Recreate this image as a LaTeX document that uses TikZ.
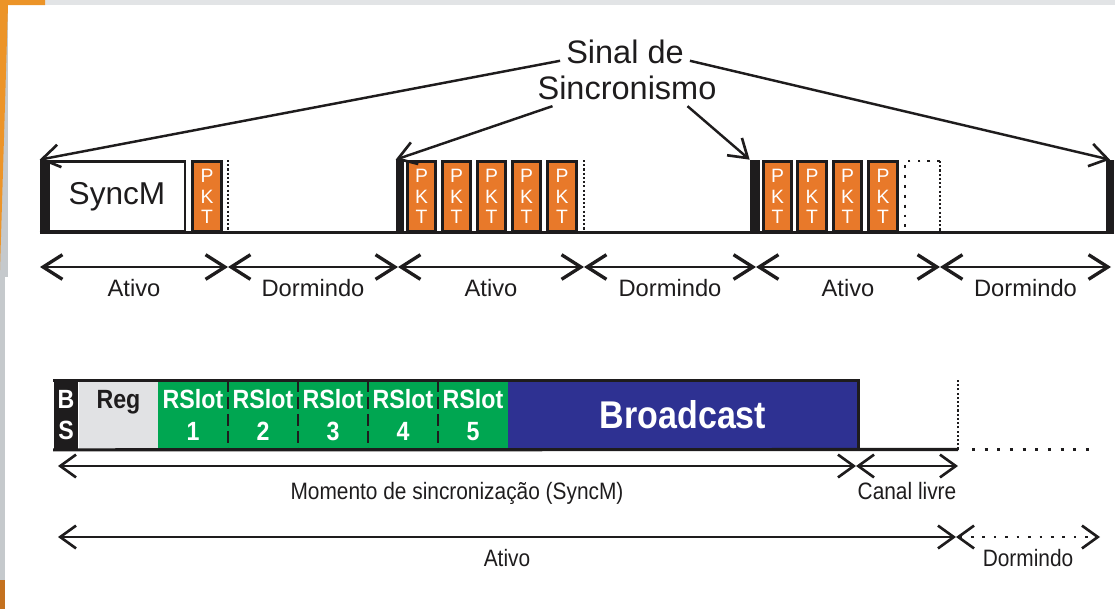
\documentclass[tikz,border=0pt]{standalone}
\usepackage{fontspec}
\setmainfont{Liberation Sans}
\newfontfamily\narrowsf[FakeStretch=0.88]{Liberation Sans}
\usetikzlibrary{arrows.meta}

\definecolor{pktorange}{HTML}{E8792A}
\definecolor{slotgreen}{HTML}{00A651}
\definecolor{bcblue}{HTML}{2E3192}
\definecolor{reggray}{HTML}{E1E2E4}
\definecolor{slidegray}{HTML}{C5C9CC}
\definecolor{slideorange}{HTML}{EC9428}
\definecolor{slidebrown}{HTML}{C4711F}
\definecolor{stripgray}{HTML}{E2E4E6}
\definecolor{ink}{HTML}{1E1C1D}

\tikzset{
  bigbarb/.tip={Straight Barb[length=11pt,width=14pt,line width=1.9pt]},
  smallbarb/.tip={Straight Barb[length=9pt,width=13pt,line width=1.5pt]},
  sig/.style={draw=ink, line width=1.4pt, -{Straight Barb[length=10pt,width=13pt,line width=1.5pt]}},
  span/.style={draw=ink, line width=1.2pt, bigbarb-bigbarb},
  thinspan/.style={draw=ink, line width=0.9pt, smallbarb-smallbarb},
  spanlbl/.style={midway, anchor=base, yshift=-17pt, text=ink, font=\fontsize{13.5}{16}\selectfont},
  lowlbl/.style={midway, anchor=base, text=ink, font=\narrowsf\fontsize{13.5}{15}\selectfont},
  sinaltxt/.style={text=ink, font=\fontsize{18.5}{20}\selectfont},
  syncbar/.style={fill=ink, inner sep=0pt, minimum height=1.44cm},
  syncbox/.style={draw=ink, line width=1.4pt, inner sep=0pt, minimum width=2.72cm, minimum height=1.4cm,
    text=ink, font=\fontsize{18}{20}\selectfont},
  pkt/.style={draw=ink, line width=1.5pt, fill=pktorange, text=white, inner sep=0pt, align=center,
    minimum width=0.57cm, minimum height=1.39cm, font=\fontsize{11}{11.5}\selectfont},
  densedot/.style={draw=ink, line width=1.2pt, dash pattern=on 1.2pt off 1.2pt},
  sparsedot/.style={draw=ink, line width=1.5pt, dash pattern=on 1.6pt off 4pt},
  cell/.style={inner sep=0pt, minimum height=1.38cm, align=center,
    font=\narrowsf\bfseries\fontsize{15}{18}\selectfont},
  bsbox/.style={cell, fill=ink, text=white, minimum width=0.5cm},
  regbox/.style={cell, fill=reggray, text=ink, minimum width=1.58cm},
  slot/.style={cell, fill=slotgreen, text=white, minimum width=1.4cm},
  bcbox/.style={cell, fill=bcblue, text=white, minimum width=7cm,
    font=\narrowsf\bfseries\fontsize{22}{24}\selectfont},
  slotdiv/.style={draw=ink, line width=1pt, dash pattern=on 6.8pt off 2.8pt},
  frame/.style={draw=ink, line width=1.8pt}
}

\begin{document}
\begin{tikzpicture}[x=0.02cm, y=-0.02cm]
\useasboundingbox (0,0) rectangle (1115,609);

% slide background
\fill[stripgray] (45,0) rectangle (1115,5);
\fill[slidegray] (0,0) rectangle (8,277);
\fill[slidegray] (0,277) rectangle (5,609);
\fill[slideorange] (0,0) -- (45,0) -- (45,5) -- (8,5) -- (0,270) -- cycle;
\fill[slidebrown] (0,580) rectangle (5,609);

% top: cycle of active and sleeping periods
\node[syncbox] (syncm) at (117,196.5) {SyncM};
\node[pkt] (p1) at (207,196.5) {P\\K\\T};
\draw[densedot] (228,160) -- (228,232);

\node[pkt] (p2) at (421.5,196.5) {P\\K\\T};
\node[pkt] (p3) at (456.5,196.5) {P\\K\\T};
\node[pkt] (p4) at (491.5,196.5) {P\\K\\T};
\node[pkt] (p5) at (526.5,196.5) {P\\K\\T};
\node[pkt] (p6) at (562,196.5) {P\\K\\T};
\draw[densedot] (584,160) -- (584,232);

\node[pkt] (p7) at (777.5,196.5) {P\\K\\T};
\node[pkt] (p8) at (812,196.5) {P\\K\\T};
\node[pkt] (p9) at (847.5,196.5) {P\\K\\T};
\node[pkt] (p10) at (883,196.5) {P\\K\\T};
\draw[sparsedot] (940,161) -- (905,161) -- (905,232);
\draw[densedot] (940,161) -- (940,232);

\node[syncbar, minimum width=0.16cm] (b1) at (44,196) {};
\node[syncbar, minimum width=0.16cm] (b2) at (400,196) {};
\node[syncbar, minimum width=0.2cm] (b3) at (755,196) {};
\node[syncbar, minimum width=0.16cm] (b4) at (1110,196) {};
\draw[ink, line width=1.7pt] (b1.south west) -- (b4.south east);

\node[sinaltxt] (sinal) at (625,52) {Sinal de};
\node[sinaltxt] (sincr) at (627,88) {Sincronismo};
\draw[sig] ([yshift=-5pt]sinal.west) -- (b1.north west);
\draw[sig] ([xshift=12pt]sincr.south west) -- (b2.north west);
\draw[sig] ([xshift=-20pt]sincr.south east) -- (b3.north west);
\draw[sig] ([yshift=-5pt]sinal.east) -- (b4.north);

\coordinate (t0) at (40,267);
\coordinate (t1) at (228,267);
\coordinate (t2) at (398,267);
\coordinate (t3) at (584,267);
\coordinate (t4) at (756,267);
\coordinate (t5) at (940,267);
\coordinate (t6) at (1111,267);
\draw[span] (t0) -- node[spanlbl] (a1) {Ativo} (t1);
\draw[span] (t1) -- node[spanlbl] (d1) {Dormindo} (t2);
\draw[span] (t2) -- node[spanlbl] (a2) {Ativo} (t3);
\draw[span] (t3) -- node[spanlbl] (d2) {Dormindo} (t4);
\draw[span] (t4) -- node[spanlbl] (a3) {Ativo} (t5);
\draw[span] (t5) -- node[spanlbl] (d3) {Dormindo} (t6);

% bottom: structure of the synchronisation moment
\node[bsbox] (bs) at (66,415) {B\\S};
\node[regbox] (reg) at (118.5,415) {Reg\\\phantom{1}};
\node[slot] (r1) at (193,415) {RSlot\\1};
\node[slot] (r2) at (263,415) {RSlot\\2};
\node[slot] (r3) at (333,415) {RSlot\\3};
\node[slot] (r4) at (403,415) {RSlot\\4};
\node[slot] (r5) at (473,415) {RSlot\\5};
\node[bcbox] (bc) at (683,415) {Broadcast};
\draw[slotdiv] (r1.north east) -- (r1.south east);
\draw[slotdiv] (r2.north east) -- (r2.south east);
\draw[slotdiv] (r3.north east) -- (r3.south east);
\draw[slotdiv] (r4.north east) -- (r4.south east);

\coordinate (cfree) at (958,449.5);
\coordinate (cfreetop) at (958,379);
\draw[frame] (bs.north west) -- (bc.north east) -- (bc.south east);
\draw[frame] (bs.south west) -- (cfree);
\draw[densedot] (cfree) -- (cfreetop);
\draw[draw=ink, line width=1.7pt, dash pattern=on 1.7pt off 5.5pt] (972,449.5) -- (1095,449.5);

\coordinate (m0) at (58,466);
\coordinate (m1) at (856,466);
\coordinate (m2) at (958,466);
\draw[thinspan] (m0) -- node[lowlbl, yshift=-19.3pt] (msync) {Momento de sincronização (SyncM)} (m1);
\draw[thinspan] (m1) -- node[lowlbl, yshift=-19.3pt] (mfree) {Canal livre} (m2);

\coordinate (n0) at (58,537);
\coordinate (n1) at (956,537);
\coordinate (n2) at (1100,537);
\draw[thinspan] (n0) -- node[lowlbl, yshift=-17pt] (nact) {Ativo} (n1);
\draw[thinspan, dash pattern=on 1.5pt off 5pt] (n1) -- node[lowlbl, yshift=-17pt] (nsleep) {Dormindo} (n2);
\end{tikzpicture}
\end{document}
